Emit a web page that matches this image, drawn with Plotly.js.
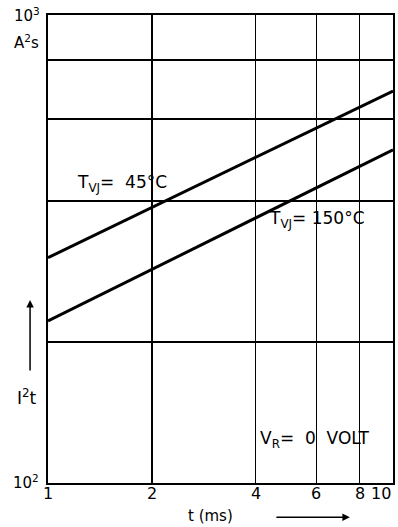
<!DOCTYPE html>
<html>
<head>
<meta charset="utf-8">
<script src="https://cdn.plot.ly/plotly-3.0.1.min.js"></script>
<style>html,body{margin:0;padding:0;background:#fff;}#chart{width:398px;height:527px;}</style>
</head>
<body>
<div id="chart"></div>
<script>
const tMs = [1, 10];
const i2t45 = [303, 688];
const i2t150 = [222, 515];
const xTickVals = [1, 2, 4, 6, 8, 10];
const xTickText = ['1', '2', '4', '6', '8', '10'];
const yGridVals = [200, 400, 600, 800];

const FONT = 'DejaVu Sans, Liberation Sans, sans-serif';

const traces = [
  {x: tMs, y: i2t45, mode: 'lines', line: {color: '#000', width: 3}, name: 'T_VJ=45°C'},
  {x: tMs, y: i2t150, mode: 'lines', line: {color: '#000', width: 3}, name: 'T_VJ=150°C'}
];

const tickAnnots = xTickVals.map((v, i) => ({
  xref: 'x', yref: 'paper', x: Math.log10(v), y: -0.022,
  xanchor: i === xTickVals.length - 1 ? 'right' : 'center', yanchor: 'middle',
  text: xTickText[i], showarrow: false, font: {size: 16}
}));

const layout = {
  width: 398, height: 527,
  margin: {l: 48, r: 5, t: 15, b: 44},
  paper_bgcolor: '#fff', plot_bgcolor: '#fff',
  showlegend: false,
  font: {family: FONT, color: '#000', size: 15},
  xaxis: {
    type: 'log', range: [0, 1],
    tickvals: xTickVals, showticklabels: false,
    showgrid: true, gridcolor: '#000', gridwidth: 1.3,
    showline: true, linecolor: '#000', linewidth: 2, mirror: true,
    ticks: '', zeroline: false
  },
  yaxis: {
    type: 'log', range: [2, 3],
    tickvals: yGridVals, showticklabels: false,
    showgrid: true, gridcolor: '#000', gridwidth: 2,
    showline: true, linecolor: '#000', linewidth: 2, mirror: true,
    ticks: '', zeroline: false
  },
  annotations: tickAnnots.concat([
    {xref: 'paper', yref: 'paper', x: -0.061, y: 1.0, xanchor: 'center', yanchor: 'middle', text: '10<sup>3</sup>', showarrow: false, font: {size: 15}},
    {xref: 'paper', yref: 'paper', x: -0.061, y: 0.942, xanchor: 'center', yanchor: 'middle', text: 'A<sup>2</sup>s', showarrow: false, font: {size: 15}},
    {xref: 'paper', yref: 'paper', x: -0.064, y: 0.003, xanchor: 'center', yanchor: 'middle', text: '10<sup>2</sup>', showarrow: false, font: {size: 15}},
    {xref: 'paper', yref: 'paper', x: -0.061, y: 0.184, xanchor: 'center', yanchor: 'middle', text: 'I<sup>2</sup>t', showarrow: false, font: {size: 17}},
    {xref: 'paper', yref: 'paper', x: -0.052, y: 0.391, ax: 0, ay: 72, text: '', showarrow: true, arrowhead: 2, arrowsize: 1, arrowwidth: 1.5, arrowcolor: '#000'},
    {xref: 'paper', yref: 'paper', x: 0.47, y: -0.071, xanchor: 'center', yanchor: 'middle', text: 't (ms)', showarrow: false, font: {size: 15}},
    {xref: 'paper', yref: 'paper', x: 0.875, y: -0.073, ax: -75, ay: 0, text: '', showarrow: true, arrowhead: 2, arrowsize: 1, arrowwidth: 1.5, arrowcolor: '#000'},
    {xref: 'paper', yref: 'paper', x: 0.078, y: 0.641, xanchor: 'left', yanchor: 'middle', text: 'T<sub>VJ</sub>=  45°C', showarrow: false, font: {size: 17}},
    {xref: 'paper', yref: 'paper', x: 0.635, y: 0.562, xanchor: 'left', yanchor: 'middle', text: 'T<sub>VJ</sub>= 150°C', showarrow: false, font: {size: 17}},
    {xref: 'paper', yref: 'paper', x: 0.609, y: 0.092, xanchor: 'left', yanchor: 'middle', text: 'V<sub>R</sub>=  0  VOLT', showarrow: false, font: {size: 17}}
  ])
};

Plotly.newPlot('chart', traces, layout, {staticPlot: true, displayModeBar: false});
</script>
</body>
</html>
